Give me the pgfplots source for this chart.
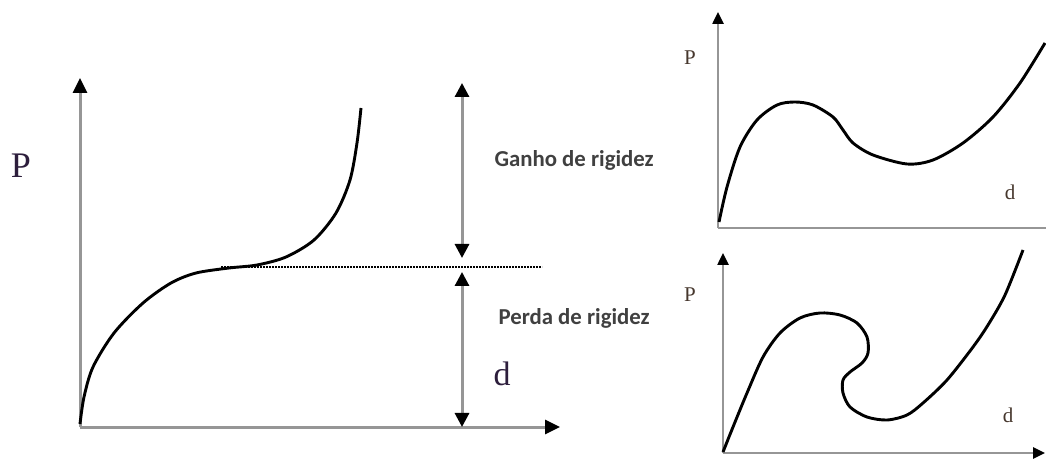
\documentclass[border=0pt]{standalone}
\usepackage{pgfplots}
\pgfplotsset{compat=1.18}
\usepackage{fontspec}
\setmainfont{Liberation Serif}
\newfontfamily\lab{Carlito}
\usetikzlibrary{arrows.meta}
\definecolor{axgray}{RGB}{150,150,150}
\definecolor{lblP}{RGB}{45,30,60}
\definecolor{lblR}{RGB}{70,55,45}
\begin{document}
\begin{tikzpicture}
\useasboundingbox (0,0) rectangle (1046pt,460pt);
\pgfplotsset{
 diag/.style={hide axis, clip=false, x=1pt, y=1pt, anchor=south west},
 ax/.style={draw=axgray, line width=3pt, -{Triangle[color=black,length=15pt,width=14pt]}},
 axs/.style={draw=axgray, line width=2.5pt, -{Triangle[color=black,length=12pt,width=11pt]}},
 dbl/.style={draw=axgray, line width=3pt, {Triangle[color=black,length=14pt,width=14pt]}-{Triangle[color=black,length=14pt,width=14pt]}},
 crv/.style={black, line width=2.9pt, smooth, no marks},
}
% ---------------- left diagram ----------------
\begin{axis}[diag, at={(80pt,33pt)}, xmin=0, xmax=480, ymin=0, ymax=349]
\addplot[ax] coordinates {(0,0)(480,0)};
\addplot[ax] coordinates {(0,0)(0,349)};
\addplot[black, line width=1.6pt, dash pattern=on 1.6pt off 1.4pt] coordinates {(141,160)(462,160)};
\addplot[dbl] coordinates {(382,169)(382,344)};
\addplot[dbl] coordinates {(382,0)(382,155)};
\addplot[crv] coordinates {(0,3)(4,30)(13,60)(34,94)(63,124)(91,144)(116,154)(149,159)(177,162)(206,170)(234,187)(256,214)(270,247)(277,284)(281,319)};
\node[font=\lab\bfseries\fontsize{22.8}{25}\selectfont, anchor=west, text=black!75] at (axis cs:411,267) {Ganho de rigidez};
\node[font=\lab\bfseries\fontsize{22.8}{25}\selectfont, anchor=west, text=black!75] at (axis cs:415,109) {Perda de rigidez};
\node[font=\fontsize{36}{40}\selectfont, text=lblP] at (axis cs:-59,261) {P};
\node[font=\fontsize{34}{38}\selectfont, text=lblP] at (axis cs:422,53) {d};
\end{axis}
% ---------------- top right diagram ----------------
\begin{axis}[diag, at={(718pt,232pt)}, xmin=0, xmax=328, ymin=0, ymax=216]
\addplot[axs] coordinates {(0,0)(0,216)};
\addplot[draw=axgray, line width=2.5pt] coordinates {(0,0)(328,0)};
\addplot[crv] coordinates {(1,6)(9,41)(22,81)(39,108)(59,123)(77,126)(95,123)(115,111)(125,98)(135,85)(155,73)(189,64)(215,68)(245,85)(275,111)(302,145)(327,185)};
\node[font=\fontsize{21}{23}\selectfont, text=lblR] at (axis cs:-28,170) {P};
\node[font=\fontsize{21}{23}\selectfont, text=lblR] at (axis cs:292,36) {d};
\end{axis}
% ---------------- bottom right diagram ----------------
\begin{axis}[diag, at={(723pt,7pt)}, xmin=0, xmax=322, ymin=0, ymax=200]
\addplot[axs] coordinates {(0,0)(0,200)};
\addplot[axs] coordinates {(0,0)(322,0)};
\addplot[crv] coordinates {(0,1)(10,26)(24,60)(40,96)(57,120)(77,135)(97,140)(117,138)(134,130)(144,116)(145,100)(139,90)(127,81)(120,73)(120,60)(127,46)(144,36)(164,33)(184,38)(200,50)(224,73)(250,106)(265,128)(282,158)(300,203)};
\node[font=\fontsize{21}{23}\selectfont, text=lblR] at (axis cs:-33,158) {P};
\node[font=\fontsize{21}{23}\selectfont, text=lblR] at (axis cs:285,38) {d};
\end{axis}
\end{tikzpicture}
\end{document}
